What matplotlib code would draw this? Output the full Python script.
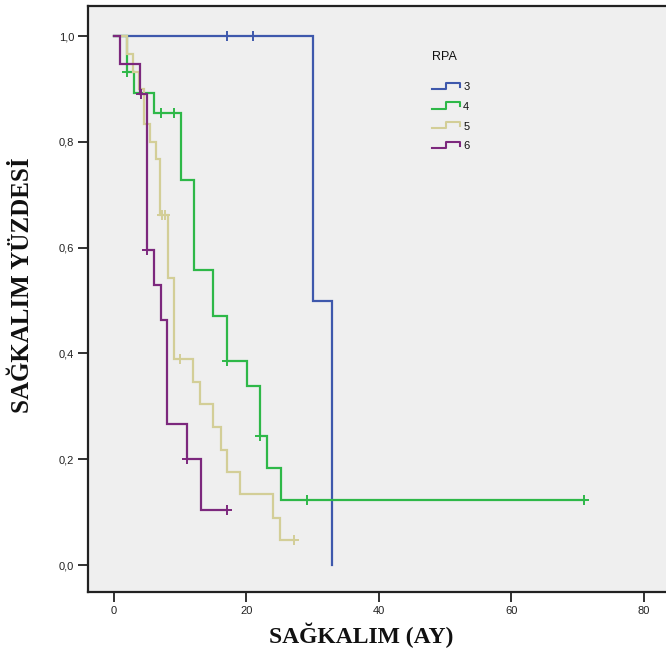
import numpy as np
import matplotlib
matplotlib.use('Agg')
import matplotlib.pyplot as plt
from matplotlib.lines import Line2D
from matplotlib.legend_handler import HandlerBase

# Kaplan-Meier steps per RPA class: event times, survival after each event,
# end of follow-up and censored times
rpa_labels = ['3', '4', '5', '6']

rpa3_t = [0, 30.0, 33.0]
rpa3_s = [1.0, 0.5, 0.0]
rpa3_end = 33.0
rpa3_cens = [17.0, 21.0]

rpa4_t = [0, 1.9, 3.0, 6.1, 10.1, 12.1, 15.0, 17.1, 20.1, 22.0, 23.1, 25.2]
rpa4_s = [1.0, 0.933, 0.892, 0.855, 0.728, 0.558, 0.471, 0.386, 0.338, 0.244, 0.183, 0.123]
rpa4_end = 71.0
rpa4_cens = [2.0, 7.1, 9.0, 17.1, 22.0, 29.1, 71.0]

rpa5_t = [0, 1.9, 2.9, 3.8, 4.5, 5.5, 6.3, 7.0, 8.1, 9.1, 12.0, 13.0, 15.0, 16.1, 17.0, 19.1, 24.0, 25.0]
rpa5_s = [1.0, 0.967, 0.933, 0.900, 0.833, 0.800, 0.767, 0.662, 0.543, 0.389, 0.347, 0.304, 0.261, 0.217, 0.175, 0.134, 0.088, 0.047]
rpa5_end = 27.2
rpa5_cens = [7.3, 7.7, 10.0, 27.2]

rpa6_t = [0, 0.9, 3.9, 5.0, 6.1, 7.1, 8.0, 11.0, 13.1]
rpa6_s = [1.0, 0.947, 0.890, 0.595, 0.529, 0.464, 0.267, 0.200, 0.104]
rpa6_end = 17.1
rpa6_cens = [4.0, 5.0, 11.0, 17.1]

colors = ['#3E58AC', '#2EB848', '#D3CE97', '#7C287D']

x_ticks = [0, 20, 40, 60, 80]
y_ticks = [0.0, 0.2, 0.4, 0.6, 0.8, 1.0]


class StepHandler(HandlerBase):
    # small step-shaped icon for the legend entries
    def create_artists(self, legend, orig_handle, xdescent, ydescent,
                       width, height, fontsize, trans):
        lo = -ydescent + 0.15 * height
        hi = -ydescent + 0.95 * height
        x0 = -xdescent
        xs = [x0, x0 + 0.52 * width, x0 + 0.52 * width, x0 + width, x0 + width]
        ys = [lo, lo, hi, hi, lo + 0.35 * (hi - lo)]
        ln = Line2D(xs, ys, color=orig_handle.get_color(), lw=1.5,
                    transform=trans)
        return [ln]


fig = plt.figure(figsize=(6.66, 6.52), dpi=100)
fig.patch.set_facecolor('white')
ax = fig.add_axes([88 / 666, 60 / 652, 582 / 666, 586 / 652])
ax.set_facecolor('#efefef')

groups = [
    (rpa3_t, rpa3_s, rpa3_end, rpa3_cens),
    (rpa4_t, rpa4_s, rpa4_end, rpa4_cens),
    (rpa5_t, rpa5_s, rpa5_end, rpa5_cens),
    (rpa6_t, rpa6_s, rpa6_end, rpa6_cens),
]

handles = []
for (t, s, end, cens), col, lab in zip(groups, colors, rpa_labels):
    tt = list(t) + [end]
    ss = list(s) + [s[-1]]
    h, = ax.step(tt, ss, where='post', color=col, lw=1.6, label=lab,
                 solid_joinstyle='miter')
    cy = [s[np.searchsorted(t, c, side='right') - 1] for c in cens]
    ax.plot(cens, cy, linestyle='none', marker='+', markersize=7,
            markeredgewidth=1.4, color=col)
    handles.append(h)

ax.set_xlim(-3.94, 84.0)
ax.set_ylim(-0.051, 1.057)
ax.set_xticks(x_ticks)
ax.set_xticklabels([str(v) for v in x_ticks])
ax.set_yticks(y_ticks)
ax.set_yticklabels([('%.1f' % v).replace('.', ',') for v in y_ticks])
ax.tick_params(direction='out', length=7, width=1.3, colors='#222222',
               labelsize=8, pad=3)
for lbl in ax.get_xticklabels() + ax.get_yticklabels():
    lbl.set_family('Liberation Sans')

for side in ['left', 'bottom', 'top']:
    ax.spines[side].set_linewidth(1.6)
    ax.spines[side].set_color('#222222')
ax.spines['right'].set_visible(False)

ax.set_xlabel('SAĞKALIM (AY)', family='Liberation Serif', fontweight='bold',
              fontsize=17, color='#111111')
ax.xaxis.set_label_coords(0.469, -0.053)
ax.set_ylabel('SAĞKALIM YÜZDESİ', family='Liberation Serif', fontweight='bold',
              fontsize=18, color='#111111', va='center')
ax.yaxis.set_label_coords(-0.113, 0.524)

fig.text(432 / 666, 1 - 57 / 652, 'RPA', family='Liberation Sans',
         fontsize=9, ha='left', va='center', color='#111111')
leg = ax.legend(handles=handles, labels=rpa_labels,
                handler_map={Line2D: StepHandler()},
                loc='upper left', bbox_to_anchor=(432 / 666, 1 - 82 / 652),
                bbox_transform=fig.transFigure, frameon=False,
                fontsize=8, borderpad=0, borderaxespad=0,
                handlelength=2.5, handletextpad=0.3, labelspacing=0.88)
for txt in leg.get_texts():
    txt.set_family('Liberation Sans')
    txt.set_color('#111111')

fig.savefig('out.png', dpi=100, facecolor='white')
